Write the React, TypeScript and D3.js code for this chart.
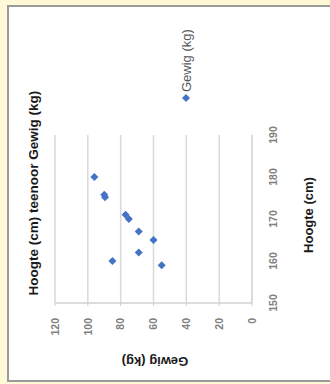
import React from "react";
import * as d3 from "d3";

const heights = [180, 175.8, 175.2, 171, 170, 167, 165, 162, 160, 159];
const weights = [96, 90, 89.5, 77, 75, 69, 60, 69, 85, 55];
const xTicks = [150, 160, 170, 180, 190];
const yTicks = [0, 20, 40, 60, 80, 100, 120];
const title = "Hoogte (cm) teenoor Gewig (kg)";
const xTitle = "Hoogte (cm)";
const yTitle = "Gewig (kg)";
const legendLabel = "Gewig (kg)";

export default function App() {
  const W = 330, H = 384;
  const x = d3.scaleLinear().domain([150, 190]).range([81, 249]);
  const y = d3.scaleLinear().domain([0, 120]).range([252, 55]);
  const diamond = d3.symbol().type(d3.symbolSquare).size(32)();
  const font = "'Liberation Sans', Arial, sans-serif";
  return (
    <svg width={W} height={H} style={{ position: "absolute", left: 0, top: 0, display: "block" }}>
      <rect x={0} y={0} width={W} height={H} fill="#FFF9D8" />
      <rect x={8} y={6} width={W} height={375} fill="#ffffff" stroke="#9a9a9a" strokeWidth={2} />
      <g transform={`translate(0,${H}) rotate(-90)`} fontFamily={font}>
        {yTicks.filter(t => t > 0).map(t => (
          <line key={t} x1={x(150)} x2={x(190)} y1={y(t)} y2={y(t)} stroke="#d9d9d9" strokeWidth={1.5} />
        ))}
        <line x1={x(150)} x2={x(190)} y1={y(0)} y2={y(0)} stroke="#d0d0d0" strokeWidth={1.5} />
        <line x1={x(150)} x2={x(150)} y1={y(120)} y2={y(0)} stroke="#d0d0d0" strokeWidth={1.5} />
        {yTicks.map(t => (
          <line key={"tk" + t} x1={x(150) - 3} x2={x(150)} y1={y(t)} y2={y(t)} stroke="#d0d0d0" strokeWidth={1} />
        ))}
        {yTicks.map(t => (
          <text key={"yl" + t} x={66} y={y(t)} dy="0.35em" textAnchor="end" fontSize={10.5} fontWeight="bold" fill="#808080">{t}</text>
        ))}
        {xTicks.map(t => (
          <text key={"xl" + t} x={x(t)} y={273} dy="0.35em" textAnchor="middle" fontSize={10.5} fontWeight="bold" fill="#808080">{t}</text>
        ))}
        {heights.map((h, i) => (
          <path key={"p" + i} d={diamond} transform={`translate(${x(h)},${y(weights[i])}) rotate(45)`} fill="#4472C4" />
        ))}
        <text x={191} y={33} dy="0.35em" textAnchor="middle" fontSize={13.5} fontWeight="bold" fill="#1a1a1a">{title}</text>
        <text x={169} y={308} dy="0.35em" textAnchor="middle" fontSize={13} fontWeight="bold" fill="#1a1a1a">{xTitle}</text>
        <text transform={`translate(22,155) rotate(-90)`} dy="0.35em" textAnchor="middle" fontSize={13} fontWeight="bold" fill="#1a1a1a">{yTitle}</text>
        <path d={diamond} transform={`translate(286,186) rotate(45)`} fill="#4472C4" />
        <text x={292} y={186} dy="0.35em" fontSize={13} fill="#595959">{legendLabel}</text>
      </g>
    </svg>
  );
}
